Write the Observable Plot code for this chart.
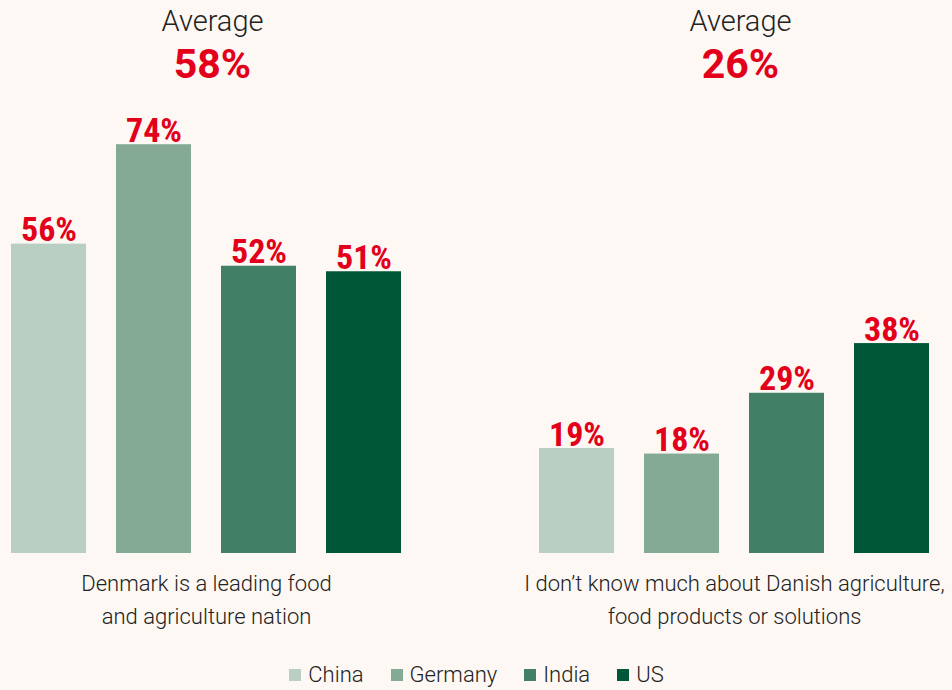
<!DOCTYPE html>
<html><head><meta charset="utf-8">
<script src="https://cdn.jsdelivr.net/npm/d3@7"></script>
<script src="https://cdn.jsdelivr.net/npm/@observablehq/plot@0.6"></script>
<style>
body{margin:0;background:#fdf8f3;}
#chart{width:952px;}
#legend .lg-swatches{justify-content:center;font-family:"Roboto",sans-serif;font-size:22px;color:#222;font-weight:300;padding-left:28px;}
#legend .lg-swatch{margin-right:27px;}
#legend .lg-swatch svg{margin-right:7px;}
</style></head><body><div id="chart"></div><div id="legend"></div>
<script>
const countries = ["China", "Germany", "India", "US"];
const statements = [
  "Denmark is a leading food\nand agriculture nation",
  "I don’t know much about Danish agriculture,\nfood products or solutions"
];
const leadingNation = [56, 74, 52, 51];
const dontKnow = [19, 18, 29, 38];
const averages = [58, 26];
const colors = ["#b9cfc3", "#84aa96", "#427f67", "#005737"];

const series = [leadingNation, dontKnow];
const data = [];
statements.forEach((s, j) => countries.forEach((c, i) =>
  data.push({statement: s, country: c, value: series[j][i]})));
const avgData = statements.map((s, i) => ({statement: s, avg: averages[i]}));

const red = "#e2001a";
const plot = Plot.plot({
  width: 952, height: 658,
  marginTop: 100, marginBottom: 105, marginLeft: 8, marginRight: 20,
  style: {background: "transparent", fontFamily: "Roboto, sans-serif", color: "#222"},
  fx: {domain: statements, paddingInner: 0.2533, paddingOuter: 0, label: null},
  x: {domain: countries, paddingInner: 0.283, paddingOuter: 0, axis: null},
  y: {domain: [0, 82], axis: null},
  color: {domain: countries, range: colors},
  marks: [
    Plot.barY(data, {fx: "statement", x: "country", y: "value", fill: "country"}),
    Plot.text(data, {fx: "statement", x: "country", y: "value", text: d => d.value + "%",
      lineAnchor: "bottom", dy: -3, fill: red, fontSize: 34, fontWeight: 700,
      fontFamily: "'Liberation Sans Narrow', 'Roboto Condensed', Roboto, sans-serif"}),
    Plot.text(avgData, {fx: "statement", text: () => "Average", frameAnchor: "top",
      lineAnchor: "bottom", dy: -70, dx: 6, fontSize: 29, fontWeight: 300, fill: "#222"}),
    Plot.text(avgData, {fx: "statement", text: d => d.avg + "%", frameAnchor: "top",
      lineAnchor: "bottom", dy: -23, dx: 6, fontSize: 41, fontWeight: 700, fill: red}),
    Plot.axisFx({anchor: "bottom", tickSize: 0, tickPadding: 14, fontSize: 22, lineHeight: 1.5,
      fontWeight: 300, label: null, fill: "#222"})
  ]
});
document.getElementById("chart").append(plot);
document.getElementById("legend").append(plot.legend("color", {className: "lg", swatchSize: 12}));
</script></body></html>
